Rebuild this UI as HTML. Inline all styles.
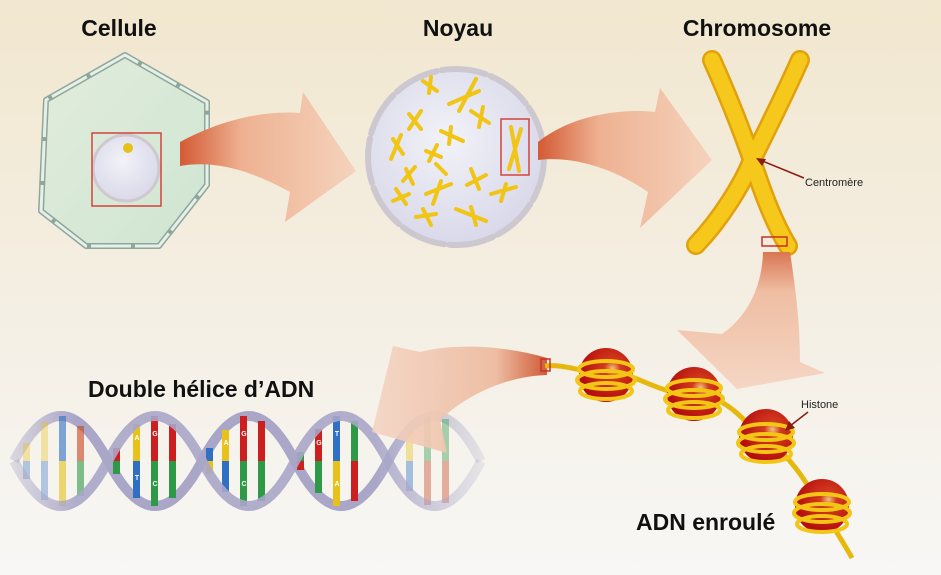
<!DOCTYPE html>
<html><head><meta charset="utf-8"><style>
html,body{margin:0;padding:0;width:941px;height:575px;overflow:hidden}
svg{display:block}
text{font-family:"Liberation Sans",sans-serif}
</style></head><body>
<svg width="941" height="575" viewBox="0 0 941 575" xmlns="http://www.w3.org/2000/svg">
<defs>
<linearGradient id="bg" x1="0" y1="0" x2="0" y2="1">
<stop offset="0" stop-color="#f2e7cf"/><stop offset="0.55" stop-color="#f4efe4"/><stop offset="1" stop-color="#f8f7f5"/></linearGradient>
<linearGradient id="a1" x1="180" y1="0" x2="356" y2="0" gradientUnits="userSpaceOnUse">
<stop offset="0" stop-color="#d45a34"/><stop offset="0.35" stop-color="#eeb191"/><stop offset="1" stop-color="#f5d3bd"/></linearGradient>
<linearGradient id="a2" x1="538" y1="0" x2="712" y2="0" gradientUnits="userSpaceOnUse">
<stop offset="0" stop-color="#d45a34"/><stop offset="0.35" stop-color="#eeb191"/><stop offset="1" stop-color="#f5d3bd"/></linearGradient>
<linearGradient id="a3" x1="0" y1="250" x2="0" y2="389" gradientUnits="userSpaceOnUse">
<stop offset="0" stop-color="#d8734e"/><stop offset="0.3" stop-color="#efbea3"/><stop offset="1" stop-color="#f5d6c4"/></linearGradient>
<linearGradient id="a4" x1="548" y1="0" x2="372" y2="0" gradientUnits="userSpaceOnUse">
<stop offset="0" stop-color="#cf5a36"/><stop offset="0.3" stop-color="#eebea4"/><stop offset="1" stop-color="#f3d2c0" stop-opacity="0.85"/></linearGradient>
<radialGradient id="nuc" cx="0.45" cy="0.4" r="0.6"><stop offset="0" stop-color="#f2f2f8"/><stop offset="1" stop-color="#d9d9ea"/></radialGradient>
<linearGradient id="cellg" x1="0" y1="0" x2="1" y2="1"><stop offset="0" stop-color="#e2ecdc"/><stop offset="1" stop-color="#cfe5d2"/></linearGradient>
<radialGradient id="hist" cx="0.62" cy="0.38" r="0.6"><stop offset="0" stop-color="#f2c47a"/><stop offset="0.25" stop-color="#d23a1e"/><stop offset="1" stop-color="#b50d0d"/></radialGradient>
<linearGradient id="dnaf" x1="0" y1="0" x2="500" y2="0" gradientUnits="userSpaceOnUse">
<stop offset="0" stop-color="#a9a6c8" stop-opacity="0.25"/><stop offset="0.15" stop-color="#a9a6c8"/><stop offset="0.75" stop-color="#a9a6c8"/><stop offset="1" stop-color="#a9a6c8" stop-opacity="0.1"/></linearGradient>
</defs>
<rect width="941" height="575" fill="url(#bg)"/>

<!-- Cell -->
<polygon points="125,55 46,100 41,211 86,246 159,246 207,185 207,102" fill="url(#cellg)" stroke="#8fa79a" stroke-width="6" stroke-linejoin="round"/>
<polygon points="125,55 46,100 41,211 86,246 159,246 207,185 207,102" fill="none" stroke="#e6f0ea" stroke-width="3" stroke-dasharray="40 4" stroke-linejoin="round"/>
<circle cx="126" cy="168" r="33" fill="url(#nuc)" stroke="#cfc8cf" stroke-width="3"/>
<circle cx="128" cy="148" r="5" fill="#e5c21a"/>
<rect x="92" y="133" width="69" height="73" fill="none" stroke="#d2443c" stroke-width="1.5"/>

<!-- Arrow 1 -->
<path d="M180,142 C 220,120 265,110 300,113 L 303,92 L 356,171 L 285,222 L 290,192 C 250,170 215,160 180,166 Z" fill="url(#a1)"/>

<!-- Nucleus -->
<circle cx="456" cy="157" r="86" fill="url(#nuc)"/>
<circle cx="456" cy="157" r="88" fill="none" stroke="#cdc8d0" stroke-width="6" stroke-dasharray="45 5" stroke-linecap="round"/>
<g transform="translate(1,-11)">
<g stroke="#f1c515" stroke-width="4" stroke-linecap="round" fill="none">
<path d="M422,92 L436,102 M430,88 L428,104"/>
<path d="M448,115 L478,102 M475,90 L458,122"/>
<path d="M408,125 L420,140 M420,122 L408,140"/>
<path d="M440,142 L462,152 M450,138 L448,155"/>
<path d="M470,122 L488,134 M482,118 L478,138"/>
<path d="M392,150 L402,165 M400,146 L390,170"/>
<path d="M425,162 L440,168 M436,156 L428,172"/>
<path d="M405,180 L412,195 M414,178 L402,192"/>
<path d="M435,175 L445,185"/>
<path d="M470,180 L478,200 M485,186 L466,196"/>
<path d="M395,200 L405,215 M392,212 L408,205"/>
<path d="M425,205 L450,195 M440,192 L432,215"/>
<path d="M490,205 L515,198 M505,195 L500,212"/>
<path d="M415,228 L435,225 M422,220 L430,236"/>
<path d="M455,220 L485,232 M470,218 L475,236"/>
<path d="M510,138 L518,182 M520,140 L508,180"/>
</g>
<rect x="500" y="130" width="28" height="56" fill="none" stroke="#d2443c" stroke-width="1.5"/>
</g>

<!-- Arrow 2 -->
<path d="M538,142 C 570,116 620,108 655,112 L 660,88 L 712,160 L 640,228 L 648,192 C 610,166 570,156 538,160 Z" fill="url(#a2)"/>

<!-- Chromosome -->
<g fill="none" stroke-linecap="round">
<path d="M712,60 C 730,100 745,140 752,160 C 760,185 772,220 788,246" stroke="#e0a10a" stroke-width="20"/>
<path d="M800,60 C 782,100 762,140 752,160 C 742,185 720,220 696,245" stroke="#e0a10a" stroke-width="20"/>
<path d="M712,60 C 730,100 745,140 752,160 C 760,185 772,220 788,246" stroke="#f6c81c" stroke-width="15"/>
<path d="M800,60 C 782,100 762,140 752,160 C 742,185 720,220 696,245" stroke="#f6c81c" stroke-width="15"/>
</g>
<rect x="762" y="237" width="25" height="9" fill="none" stroke="#c8302a" stroke-width="1.5"/>
<line x1="804" y1="178" x2="760" y2="160" stroke="#8b1a12" stroke-width="1.5"/>
<polygon points="756,158 766,159 762,166" fill="#8b1a12"/>
<text x="805" y="186" font-size="11" fill="#222">Centromère</text>

<!-- Arrow 3 -->
<path d="M763,252 C 762,290 745,318 722,334 L 677,330 L 737,389 L 825,373 L 800,362 C 800,320 795,285 790,252 Z" fill="url(#a3)"/>

<!-- DNA helix -->
<g>
<path d="M14,461 Q61,371 108,461 T202,461 T295,461 T388,461 T481,461" fill="none" stroke="url(#dnaf)" stroke-width="10"/>
<g>
<g opacity="0.35"><rect x="23" y="443" width="7" height="18" fill="#e8c21a"/><rect x="23" y="461" width="7" height="18" fill="#2f6fc4"/>
<rect x="41" y="422" width="7" height="39" fill="#e8c21a"/><rect x="41" y="461" width="7" height="39" fill="#2f6fc4"/></g>
<g opacity="0.6"><rect x="59" y="416" width="7" height="45" fill="#2f6fc4"/><rect x="59" y="461" width="7" height="45" fill="#e8c21a"/>
<rect x="77" y="426" width="7" height="35" fill="#c8431e"/><rect x="77" y="461" width="7" height="35" fill="#2e9a48"/></g>
<rect x="113" y="448" width="7" height="13" fill="#cc1f1f"/><rect x="113" y="461" width="7" height="13" fill="#2e9a48"/>
<rect x="133" y="424" width="7" height="37" fill="#e8c21a"/><rect x="133" y="461" width="7" height="37" fill="#2f6fc4"/>
<rect x="151" y="416" width="7" height="45" fill="#cc1f1f"/><rect x="151" y="461" width="7" height="45" fill="#2e9a48"/>
<rect x="169" y="424" width="7" height="37" fill="#cc1f1f"/><rect x="169" y="461" width="7" height="37" fill="#2e9a48"/>
<rect x="206" y="448" width="7" height="13" fill="#2f6fc4"/><rect x="206" y="461" width="7" height="13" fill="#e8c21a"/>
<rect x="222" y="430" width="7" height="31" fill="#e8c21a"/><rect x="222" y="461" width="7" height="31" fill="#2f6fc4"/>
<rect x="240" y="416" width="7" height="45" fill="#cc1f1f"/><rect x="240" y="461" width="7" height="45" fill="#2e9a48"/>
<rect x="258" y="421" width="7" height="40" fill="#cc1f1f"/><rect x="258" y="461" width="7" height="40" fill="#2e9a48"/>
<rect x="297" y="452" width="7" height="9" fill="#2e9a48"/><rect x="297" y="461" width="7" height="9" fill="#cc1f1f"/>
<rect x="315" y="429" width="7" height="32" fill="#cc1f1f"/><rect x="315" y="461" width="7" height="32" fill="#2e9a48"/>
<rect x="333" y="416" width="7" height="45" fill="#2f6fc4"/><rect x="333" y="461" width="7" height="45" fill="#e8c21a"/>
<rect x="351" y="421" width="7" height="40" fill="#2e9a48"/><rect x="351" y="461" width="7" height="40" fill="#cc1f1f"/>
<g opacity="0.4"><rect x="406" y="431" width="7" height="30" fill="#e8c21a"/><rect x="406" y="461" width="7" height="30" fill="#2f6fc4"/>
<rect x="424" y="417" width="7" height="44" fill="#2e9a48"/><rect x="424" y="461" width="7" height="44" fill="#c8431e"/>
<rect x="442" y="419" width="7" height="42" fill="#2e9a48"/><rect x="442" y="461" width="7" height="42" fill="#c8431e"/></g>
</g>
<g font-size="7" fill="#fff" text-anchor="middle" font-weight="bold">
<text x="137" y="440">A</text><text x="137" y="480">T</text>
<text x="155" y="436">G</text><text x="155" y="486">C</text>
<text x="244" y="436">G</text><text x="244" y="486">C</text>
<text x="337" y="436">T</text><text x="337" y="486">A</text>
<text x="226" y="445">A</text><text x="319" y="445">G</text>
</g>
<path d="M14,461 Q61,551 108,461 T202,461 T295,461 T388,461 T481,461" fill="none" stroke="url(#dnaf)" stroke-width="10" opacity="0.9"/>
</g>

<!-- Arrow 4 -->
<path d="M547,358 C 500,344 450,344 420,352 L 393,346 L 372,432 L 447,453 L 440,420 C 470,392 510,376 547,375 Z" fill="url(#a4)"/>

<!-- Coiled DNA strand -->
<path d="M545,366 C 565,364 580,372 600,372 C 640,372 650,392 690,394 C 730,396 740,420 765,438 C 790,456 805,480 820,505 C 835,530 845,545 852,558" fill="none" stroke="#e6b80e" stroke-width="5"/>
<rect x="541" y="359" width="9" height="12" fill="none" stroke="#c8302a" stroke-width="1.5"/>

<!-- Nucleosomes -->
<g>
<circle cx="606" cy="375" r="27" fill="url(#hist)"/>
<g fill="none" stroke="#f3c515" stroke-width="4">
<ellipse cx="606" cy="380" rx="29" ry="9"/><ellipse cx="606" cy="391" rx="26" ry="8"/><ellipse cx="606" cy="369" rx="27" ry="8"/>
</g>
</g>
<g>
<circle cx="694" cy="394" r="27" fill="url(#hist)"/>
<g fill="none" stroke="#f3c515" stroke-width="4">
<ellipse cx="694" cy="399" rx="29" ry="9"/><ellipse cx="694" cy="410" rx="26" ry="8"/><ellipse cx="694" cy="388" rx="27" ry="8"/>
</g>
</g>
<g>
<circle cx="766" cy="436" r="27" fill="url(#hist)"/>
<g fill="none" stroke="#f3c515" stroke-width="4">
<ellipse cx="766" cy="443" rx="28" ry="9"/><ellipse cx="766" cy="454" rx="25" ry="8"/><ellipse cx="766" cy="432" rx="27" ry="8"/>
</g>
</g>
<g>
<circle cx="822" cy="506" r="27" fill="url(#hist)"/>
<g fill="none" stroke="#f3c515" stroke-width="4">
<ellipse cx="822" cy="513" rx="28" ry="9"/><ellipse cx="822" cy="524" rx="25" ry="8"/><ellipse cx="822" cy="502" rx="27" ry="8"/>
</g>
</g>
<line x1="808" y1="412" x2="790" y2="426" stroke="#8b1a12" stroke-width="1.5"/>
<polygon points="785,431 789,421 795,428" fill="#8b1a12"/>
<text x="801" y="408" font-size="11" fill="#222">Histone</text>

<!-- Labels -->
<g font-weight="bold" font-size="23" fill="#111">
<text x="119" y="36" text-anchor="middle">Cellule</text>
<text x="458" y="36" text-anchor="middle">Noyau</text>
<text x="757" y="36" text-anchor="middle">Chromosome</text>
<text x="88" y="397">Double hélice d’ADN</text>
<text x="636" y="530">ADN enroulé</text>
</g>
</svg>
</body></html>
